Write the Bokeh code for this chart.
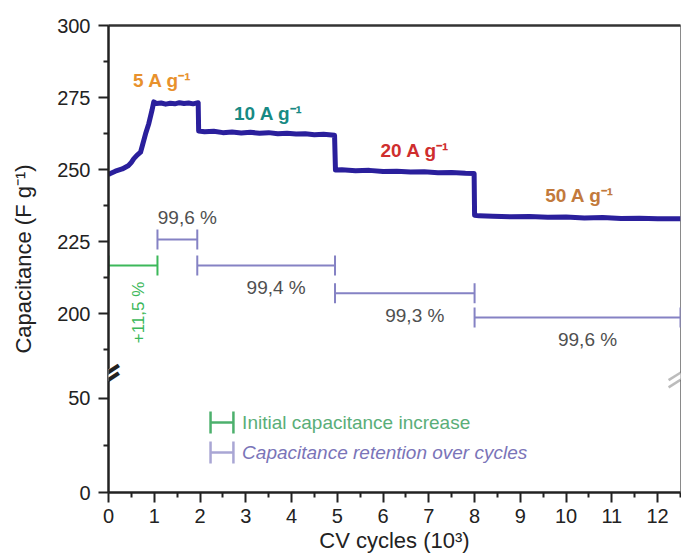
import math
from bokeh.plotting import figure
from bokeh.models import (Range1d, LinearAxis, FixedTicker, ColumnDataSource, PolyAnnotation, Label)
from bokeh.core.properties import value
from bokeh.embed import file_html
from bokeh.resources import INLINE

# ---------------- data ----------------
# capacitance vs. CV cycles (10^3)
cycles = [0.00, 0.04, 0.15, 0.30, 0.44, 0.50, 0.55, 0.62, 0.70, 0.735, 0.81, 0.88, 0.95, 0.99,
          1.05, 1.15, 1.25, 1.35, 1.45, 1.55, 1.65, 1.75, 1.85, 1.96,
          1.97, 2.10, 2.30, 2.50, 2.70, 2.90, 3.10, 3.30, 3.50, 3.70, 3.90, 4.10, 4.30, 4.50, 4.70, 4.94,
          4.96, 5.10, 5.40, 5.70, 6.00, 6.30, 6.60, 6.90, 7.20, 7.50, 7.80, 7.99,
          8.00, 8.10, 8.40, 8.80, 9.20, 9.60, 10.00, 10.40, 10.80, 11.20, 11.60, 12.00, 12.50]
capacitance = [248.3, 248.6, 249.4, 250.2, 251.4, 252.5, 253.7, 254.9, 256.0, 258.0, 262.4, 265.9, 270.5, 273.5,
               272.9, 273.1, 272.7, 273.0, 272.8, 273.2, 272.9, 273.1, 272.8, 273.2,
               263.4, 263.1, 263.3, 262.8, 263.0, 262.7, 262.9, 262.6, 262.8, 262.4, 262.6, 262.3, 262.4, 262.1, 262.2, 261.9,
               249.8, 249.9, 249.6, 249.7, 249.3, 249.4, 249.1, 249.2, 248.9, 249.0, 248.7, 248.6,
               234.1, 233.9, 233.8, 233.6, 233.7, 233.4, 233.5, 233.2, 233.3, 233.0, 233.1, 232.9, 232.9]

rate_labels = ["5 A g\u207b\u00b9", "10 A g\u207b\u00b9", "20 A g\u207b\u00b9", "50 A g\u207b\u00b9"]
rate_x = [1.18, 3.50, 6.70, 10.30]
rate_y = [281.0, 269.4, 256.6, 241.0]
rate_colors = ["#e8912c", "#178a84", "#cf2e2e", "#c27a3c"]

# retention brackets: start, end, level, label
ret_start = [1.07, 1.94, 4.95, 8.00]
ret_end = [1.94, 4.95, 8.00, 12.50]
ret_level = [225.7, 216.7, 207.0, 198.6]
ret_label = ["99,6 %", "99,4 %", "99,3 %", "99,6 %"]
ret_side = [-1, 1, 1, 1]  # -1: label above, 1: label below

# initial increase bracket
inc_start, inc_end, inc_level, inc_label = 0.0, 1.07, 216.7, "+11,5 %"

legend_labels = ["Initial capacitance increase", "Capacitance retention over cycles"]

# ---------------- scales ----------------
UP_LO, UP_HI = 137.85, 300.0      # upper (main) segment
LO_LO, LO_HI = 0.0, 248.4         # lower segment (extra range)


def low_to_main(v):
    return UP_LO + (v - LO_LO) * (UP_HI - UP_LO) / (LO_HI - LO_LO)


p = figure(width=681, height=558, output_backend="svg", toolbar_location=None,
           x_range=Range1d(0, 12.5), y_range=Range1d(UP_LO, UP_HI),
           min_border_left=108, min_border_right=1, min_border_top=25, min_border_bottom=66,
           background_fill_color="white", border_fill_color="white")
p.extra_y_ranges = {"low": Range1d(LO_LO, LO_HI)}
p.grid.visible = False
p.outline_line_color = "#8a8a8a"
p.outline_line_width = 1

FONT = "Liberation Sans"

# x axis
xa = p.xaxis[0]
xa.ticker = FixedTicker(ticks=list(range(0, 13)), minor_ticks=[i + 0.5 for i in range(0, 13)])
xa.axis_label = "CV cycles (10\u00b3)"
# y axis
ya = p.yaxis[0]
y_major = [low_to_main(0), low_to_main(50), 200, 225, 250, 275, 300]
y_minor = [low_to_main(25), 187.5, 212.5, 237.5, 262.5, 287.5]
ya.ticker = FixedTicker(ticks=y_major, minor_ticks=y_minor)
ya.major_label_overrides = {low_to_main(0): "0", low_to_main(50): "50"}
ya.axis_label = "Capacitance (F g\u207b\u00b9)"

for ax in (xa, ya):
    ax.axis_line_width = 2.5
    ax.axis_line_color = "#222222"
    ax.major_tick_line_width = 2
    ax.minor_tick_line_width = 2
    ax.major_tick_line_color = "#222222"
    ax.minor_tick_line_color = "#222222"
    ax.major_tick_out = 10
    ax.major_tick_in = 0
    ax.minor_tick_out = 5
    ax.minor_tick_in = 0
    ax.major_label_text_font = FONT
    ax.major_label_text_font_size = "20px"
    ax.major_label_text_color = "#222222"
    ax.axis_label_text_font = FONT
    ax.axis_label_text_font_size = "22px"
    ax.axis_label_text_font_style = "normal"
    ax.axis_label_text_color = "#222222"
xa.major_label_standoff = 6
xa.axis_label_standoff = 2
ya.major_label_standoff = 8
ya.axis_label_standoff = 18

# top border line
top = LinearAxis(ticker=FixedTicker(ticks=[]), major_label_text_font_size="0px",
                 axis_line_width=2.5, axis_line_color="#333333",
                 major_tick_line_color=None, minor_tick_line_color=None)
p.add_layout(top, "above")

# ---------------- curve ----------------
p.line(cycles, capacitance, line_color="#2a1f9c", line_width=5, line_join="round")

# rate labels
src_rate = ColumnDataSource(dict(x=rate_x, y=rate_y, t=rate_labels, c=rate_colors))
p.text(x="x", y="y", text="t", text_color="c", source=src_rate,
       text_font=value(FONT), text_font_size="19px", text_font_style="bold",
       text_align="center", text_baseline="middle")

# retention brackets
RET_COLOR = "#8582c4"
src_ret = ColumnDataSource(dict(
    x0=ret_start, x1=ret_end, y=ret_level, t=ret_label,
    xm=[(a + b) / 2 for a, b in zip(ret_start, ret_end)],
    yo=[22 * s for s in ret_side]))
p.segment(x0="x0", y0="y", x1="x1", y1="y", source=src_ret, line_color=RET_COLOR, line_width=2)
p.scatter(x="x0", y="y", source=src_ret, marker="dash", angle=math.pi / 2, size=20,
          line_color=RET_COLOR, line_width=2)
p.scatter(x="x1", y="y", source=src_ret, marker="dash", angle=math.pi / 2, size=20,
          line_color=RET_COLOR, line_width=2)
p.text(x="xm", y="y", text="t", source=src_ret, x_offset=10, y_offset="yo",
       text_font=value(FONT), text_font_size="19px", text_color="#505050",
       text_align="center", text_baseline="middle")

# initial increase bracket
INC_COLOR = "#3cb85a"
p.segment(x0=[inc_start], y0=[inc_level], x1=[inc_end], y1=[inc_level],
          line_color=INC_COLOR, line_width=2)
p.scatter(x=[inc_start, inc_end], y=[inc_level, inc_level], marker="dash",
          angle=math.pi / 2, size=20, line_color=INC_COLOR, line_width=2)
p.text(x=[(inc_start + inc_end) / 2], y=[inc_level], text=[inc_label], angle=math.pi / 2,
       x_offset=6, y_offset=47, text_font=value(FONT), text_font_size="17px",
       text_color=INC_COLOR, text_align="center", text_baseline="middle")

# legend (lower segment)
leg_y = [37.2, 21.3]
leg_colors = ["#4cb06c", "#a9a6d4"]
leg_text_colors = ["#5aae78", "#7a74b8"]
for i, (lab, ly) in enumerate(zip(legend_labels, leg_y)):
    p.segment(x0=[2.23], y0=[ly], x1=[2.73], y1=[ly], y_range_name="low",
              line_color=leg_colors[i], line_width=2.5)
    p.scatter(x=[2.23, 2.73], y=[ly, ly], y_range_name="low", marker="dash",
              angle=math.pi / 2, size=22, line_color=leg_colors[i], line_width=2.5)
    p.text(x=[2.92], y=[ly], text=[lab], y_range_name="low",
           text_font=value(FONT), text_font_size="19px", text_color=leg_text_colors[i],
           text_font_style="italic" if i == 1 else "normal",
           text_align="left", text_baseline="middle")

# ---- axis break marks ----
BREAK_ANGLE = 0.58
# left (on the y axis): white gap + two slanted strokes
p.add_layout(Label(x=0.0, y=178.6, text="\u2014", angle=BREAK_ANGLE, text_font=FONT,
                   text_font_size="9px", text_color="white",
                   text_align="center", text_baseline="middle",
                   background_fill_color="white", background_fill_alpha=1.0))
for off in (-3.8, 3.8):
    p.add_layout(Label(x=0.0, y=178.6, x_offset=-3, y_offset=off, text="\u2014",
                       angle=BREAK_ANGLE, text_font="DejaVu Sans", text_font_style="bold",
                       text_font_size="32px", text_color="#222222",
                       text_align="center", text_baseline="middle"))
# right (at the frame edge, cut by the edge as in the source)
HX, HY, GAP = 0.26, 2.6, 1.25
bx, by = 12.5, 178.2
p.add_layout(PolyAnnotation(xs=[bx - HX, bx + HX, bx + HX, bx - HX],
                            ys=[by - HY - GAP, by + HY - GAP, by + HY + GAP, by - HY + GAP],
                            fill_color="white", fill_alpha=1.0, line_color=None))
for s in (-1, 1):
    p.add_layout(PolyAnnotation(xs=[bx - HX, bx + HX],
                                ys=[by - HY + s * GAP, by + HY + s * GAP],
                                fill_color=None, fill_alpha=0, line_color="#222222",
                                line_width=2.5))

open("out.html", "w").write(file_html(p, INLINE))
